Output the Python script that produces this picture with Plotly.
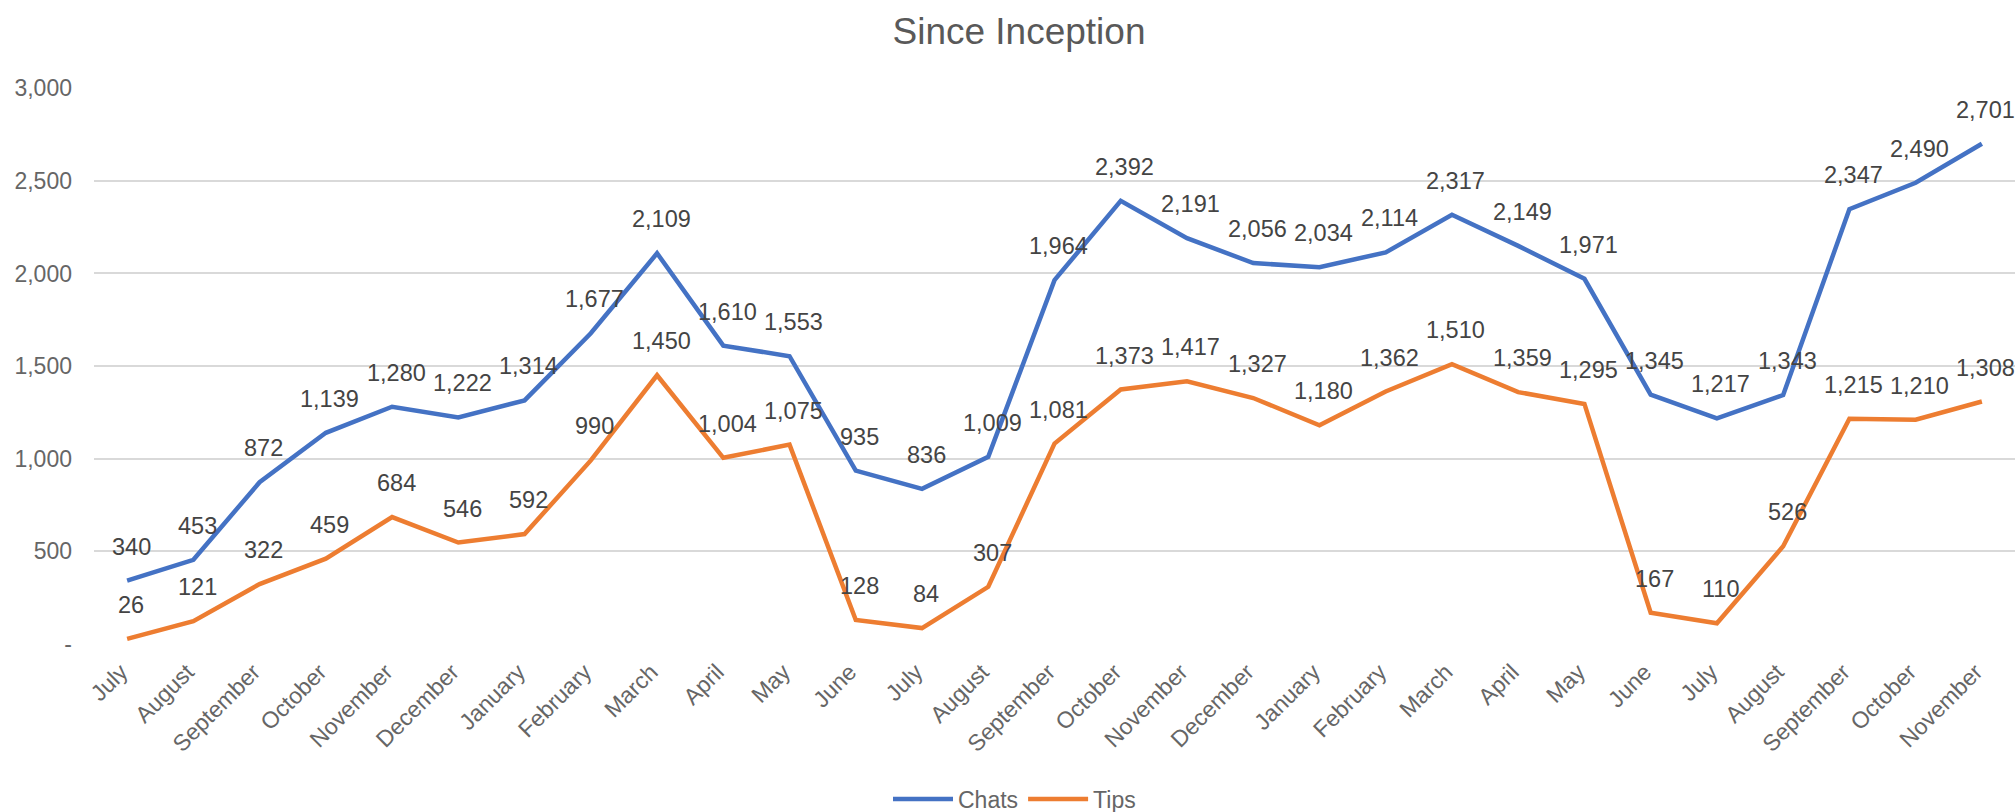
import plotly.graph_objects as go

months = ["July", "August", "September", "October", "November", "December",
          "January", "February", "March", "April", "May", "June",
          "July", "August", "September", "October", "November", "December",
          "January", "February", "March", "April", "May", "June",
          "July", "August", "September", "October", "November"]
chats = [340, 453, 872, 1139, 1280, 1222, 1314, 1677, 2109, 1610, 1553, 935,
         836, 1009, 1964, 2392, 2191, 2056, 2034, 2114, 2317, 2149, 1971, 1345,
         1217, 1343, 2347, 2490, 2701]
tips = [26, 121, 322, 459, 684, 546, 592, 990, 1450, 1004, 1075, 128,
        84, 307, 1081, 1373, 1417, 1327, 1180, 1362, 1510, 1359, 1295, 167,
        110, 526, 1215, 1210, 1308]
y_ticks = [0, 500, 1000, 1500, 2000, 2500, 3000]
y_tick_labels = ["-", "500", "1,000", "1,500", "2,000", "2,500", "3,000"]

FONT = "Liberation Sans, Arial, sans-serif"
BLUE = "#4472C4"
ORANGE = "#ED7D31"

x = list(range(len(months)))

fig = go.Figure()
fig.add_trace(go.Scatter(x=x, y=chats, mode="lines", name="Chats",
                         line=dict(color=BLUE, width=4.5)))
fig.add_trace(go.Scatter(x=x, y=tips, mode="lines", name="Tips",
                         line=dict(color=ORANGE, width=4.5)))

annotations = []
for series in (chats, tips):
    for xi, v in zip(x, series):
        annotations.append(dict(x=xi, y=v, xref="x", yref="y", text=f"{v:,}",
                                showarrow=False, yshift=34, xshift=4, xanchor="center",
                                yanchor="middle",
                                font=dict(family=FONT, size=23.5, color="#444444")))

fig.update_layout(
    width=2016, height=812,
    paper_bgcolor="white", plot_bgcolor="white",
    margin=dict(l=94, r=1, t=88, b=168, autoexpand=False),
    title=dict(text="Since Inception", x=1019 / 2016, xref="container",
               xanchor="center", y=1 - 31 / 812, yref="container", yanchor="middle",
               font=dict(family=FONT, size=37, color="#595959")),
    xaxis=dict(tickmode="array", tickvals=x, ticktext=months, range=[-0.5, len(months) - 0.5],
               tickangle=-45, showgrid=False, zeroline=False, showline=False, ticks="",
               automargin=False, ticklabelstandoff=9, ticklabelshift=-6,
               tickfont=dict(family=FONT, size=23, color="#666666")),
    yaxis=dict(tickmode="array", tickvals=y_ticks, ticktext=y_tick_labels, range=[-2, 3002],
               showgrid=True, gridcolor="#D9D9D9", gridwidth=2, zeroline=False,
               showline=False, ticks="", ticklabelstandoff=21, automargin=False,
               tickfont=dict(family=FONT, size=23, color="#666666")),
    legend=dict(orientation="h", x=1014.5 / 2016, xref="container", xanchor="center",
                y=-0.279, yanchor="middle",
                font=dict(family=FONT, size=23, color="#666666"), itemwidth=60,
                bgcolor="rgba(0,0,0,0)"),
    annotations=annotations,
    showlegend=True,
)

fig.write_html("out.html", config={"displayModeBar": False},
               post_script="document.body.style.margin='0px';document.body.style.overflow='hidden';")
